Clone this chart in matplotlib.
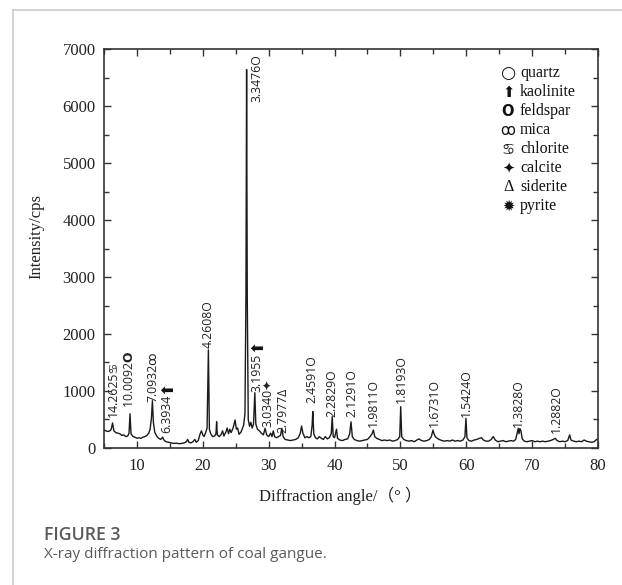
import matplotlib
matplotlib.use('Agg')
import matplotlib.pyplot as plt
from matplotlib.ticker import MultipleLocator
from matplotlib.lines import Line2D

serif = ['Liberation Serif', 'DejaVu Serif']
sans = ['Open Sans', 'DejaVu Sans']
plt.rcParams['font.family'] = serif
plt.rcParams['mathtext.fontset'] = 'dejavusans'

## XRD scan of coal gangue: 2-theta (deg) vs intensity (cps)
two_theta = [5.0, 5.3, 5.6, 5.9, 6.1, 6.3, 6.5, 6.8, 7.1, 7.4, 7.7, 8.0, 8.3, 8.6, 8.8, 8.95, 9.1,
             9.4, 9.7, 10.0, 10.3, 10.6, 10.9, 11.2, 11.5, 11.8, 12.0, 12.2, 12.35, 12.5, 12.7,
             13.0, 13.3, 13.6, 13.9, 14.1, 14.4, 14.8, 15.2, 15.6, 16.0, 16.4, 16.8, 17.2, 17.5,
             17.7, 17.9, 18.2, 18.5, 18.8, 19.0, 19.3, 19.6, 19.8, 20.0, 20.2, 20.4, 20.65, 20.85,
             21.0, 21.2, 21.5, 21.8, 22.0, 22.1, 22.2, 22.5, 22.8, 23.0, 23.2, 23.5, 23.7, 23.9,
             24.1, 24.3, 24.6, 24.9, 25.1, 25.3, 25.5, 25.8, 26.0, 26.2, 26.4, 26.55, 26.65, 26.75,
             26.9, 27.1, 27.3, 27.5, 27.7, 27.9, 28.05, 28.3, 28.6, 28.9, 29.2, 29.45, 29.7, 30.0,
             30.3, 30.5, 30.7, 30.9, 31.2, 31.5, 31.8, 32.0, 32.2, 32.5, 32.9, 33.3, 33.7, 34.1,
             34.5, 34.8, 35.0, 35.2, 35.5, 35.8, 36.1, 36.4, 36.6, 36.7, 36.85, 37.1, 37.4, 37.7,
             38.0, 38.3, 38.6, 38.9, 39.2, 39.5, 39.65, 39.8, 40.0, 40.3, 40.45, 40.8, 41.2, 41.6,
             42.0, 42.3, 42.5, 42.7, 43.0, 43.4, 43.8, 44.2, 44.6, 45.0, 45.4, 45.7, 45.9, 46.1,
             46.4, 46.8, 47.2, 47.6, 48.0, 48.4, 48.8, 49.2, 49.6, 49.9, 50.05, 50.2, 50.5, 50.9,
             51.3, 51.7, 52.1, 52.5, 52.8, 53.2, 53.6, 54.0, 54.4, 54.7, 54.95, 55.1, 55.3, 55.6,
             55.9, 56.3, 56.7, 57.1, 57.5, 57.9, 58.3, 58.7, 59.1, 59.5, 59.8, 59.95, 60.1, 60.4,
             60.8, 61.2, 61.6, 62.0, 62.3, 62.6, 63.0, 63.4, 63.8, 64.1, 64.4, 64.8, 65.2, 65.6,
             66.0, 66.4, 66.8, 67.2, 67.5, 67.8, 67.9, 68.0, 68.15, 68.3, 68.5, 68.8, 69.2, 69.6,
             70.0, 70.4, 70.8, 71.2, 71.6, 72.0, 72.4, 72.8, 73.2, 73.5, 73.8, 74.2, 74.6, 75.0,
             75.4, 75.7, 75.9, 76.3, 76.7, 77.1, 77.5, 77.9, 78.2, 78.6, 79.0, 79.4, 79.8, 80.0]
intensity = [320, 300, 290, 300, 330, 440, 300, 270, 260, 250, 220, 230, 200, 210, 260, 600, 250,
             200, 190, 170, 180, 170, 190, 200, 220, 260, 330, 520, 830, 450, 280,
             210, 170, 150, 190, 140, 110, 100, 90, 80, 85, 75, 80, 90, 110,
             150, 100, 90, 110, 150, 100, 130, 250, 300, 230, 200, 260, 350, 1720,
             330, 250, 200, 210, 250, 460, 230, 200, 240, 300, 210, 280, 350, 250,
             330, 270, 350, 490, 330, 350, 240, 280, 340, 400, 600, 2650, 6640, 2650,
             500, 380, 450, 350, 420, 970, 420, 330, 300, 260, 230, 345, 230, 200,
             260, 200, 300, 200, 180, 200, 220, 345, 200, 150, 140, 130, 140, 150,
             180, 260, 385, 260, 180, 200, 180, 200, 400, 640, 250, 180, 160, 200,
             170, 150, 200, 160, 180, 250, 550, 200, 180, 330, 170, 140, 130, 150,
             160, 250, 460, 200, 150, 130, 120, 130, 140, 150, 200, 250, 315, 200,
             170, 150, 130, 140, 130, 140, 120, 130, 150, 200, 725, 200, 150, 130,
             120, 130, 110, 140, 160, 130, 120, 130, 150, 200, 315, 250, 200, 170,
             150, 130, 120, 130, 120, 140, 120, 130, 120, 140, 200, 520, 180, 130,
             120, 140, 150, 170, 180, 140, 120, 120, 150, 200, 140, 110, 120, 130,
             110, 120, 130, 120, 150, 300, 345, 250, 340, 300, 160, 120, 110, 120,
             130, 110, 120, 110, 120, 110, 120, 130, 150, 170, 130, 110, 120, 110,
             130, 230, 140, 120, 110, 120, 110, 140, 120, 110, 100, 110, 150, 140]

## Peak labels: d-spacing (A) + phase symbol
peak_d = ['14.2625', '10.0092', '7.0932', '6.3934', '4.2608', '3.3476', '3.1955', '3.0340',
          '2.7977', '2.4591', '2.2829', '2.1291', '1.9811', '1.8193', '1.6731', '1.5424',
          '1.3828', '1.2882']
peak_phase = ['chlorite', 'feldspar', 'mica', 'kaolinite', 'quartz', 'quartz', 'kaolinite',
              'calcite', 'siderite', 'quartz', 'quartz', 'quartz', 'quartz', 'quartz', 'quartz',
              'quartz', 'quartz', 'quartz']
# anchor (x, bottom y) of each rotated label
label_x = [6.4, 8.9, 12.4, 14.6, 20.8, 28.2, 28.2, 29.9, 32.1, 36.6, 39.6, 42.7,
           45.9, 50.2, 55.2, 59.95, 67.9, 73.7]
label_y = [545, 700, 810, 260, 1750, 6070, 990, 375, 260, 790, 550, 550,
           375, 790, 375, 550, 375, 260]

## Phase key
phase_names = ['quartz', 'kaolinite', 'feldspar', 'mica', 'chlorite', 'calcite', 'siderite', 'pyrite']
phase_marks = ['\u25cb', '\u2b06', '$\\mathbf{O}$', '\ua74f', '\u264b', '\u2726', '\u0394', '\u2739']
# symbol used after the d-value on the peak labels
tag_marks = {'quartz': 'O', 'feldspar': '$\\mathbf{O}$', 'mica': '\ua74f', 'chlorite': '\u264b',
             'calcite': '\u2726', 'siderite': '\u0394'}

fig = plt.figure(figsize=(6.22, 5.85), dpi=100)
ax = fig.add_axes([0.1672, 0.2342, 0.7942, 0.682])

ax.plot(two_theta, intensity, color='#1a1a1a', linewidth=1.0)

for d, ph, lx, ly in zip(peak_d, peak_phase, label_x, label_y):
    if ph == 'kaolinite':
        t = ax.text(lx, ly, d, rotation=90, ha='center', va='bottom', fontsize=8.8,
                    family=sans, color='#222222')
        ax.annotate('\u2b06', xy=(0.5, 1), xycoords=t, xytext=(0, 1), textcoords='offset points',
                    rotation=90, ha='center', va='bottom', fontsize=11.5,
                    family='DejaVu Sans', color='#111111')
    else:
        ax.text(lx, ly, d + tag_marks[ph], rotation=90, ha='center', va='bottom', fontsize=8.8,
                family=sans, color='#222222')

for i, (m, n) in enumerate(zip(phase_marks, phase_names)):
    yy = (448 - 73 - 19 * i) / 399.0
    if m == '\u25cb':
        fam, fs = ['DejaVu Sans'], 12.5
    elif m == '\u0394':
        fam, fs = serif, 11.5
    else:
        fam, fs = ['DejaVu Sans'], 10.5
    ax.text(0.818, yy, m, transform=ax.transAxes, ha='center', va='center',
            fontsize=fs, family=fam, color='#111111')
    ax.text(0.842, yy, n, transform=ax.transAxes, ha='left', va='center',
            fontsize=11.5, family=serif, color='#111111')

ax.set_xlim(5, 80)
ax.set_ylim(0, 7000)
ax.xaxis.set_major_locator(MultipleLocator(10))
ax.xaxis.set_minor_locator(MultipleLocator(5))
ax.yaxis.set_major_locator(MultipleLocator(1000))
ax.yaxis.set_minor_locator(MultipleLocator(500))
ax.tick_params(which='both', direction='in', top=True, right=True, color='#333333',
               labelsize=12, labelcolor='#222222')
ax.tick_params(which='major', length=5, width=1)
ax.tick_params(which='minor', length=3.5, width=1)
ax.tick_params(axis='x', pad=7)
ax.tick_params(axis='y', pad=6)
for s in ax.spines.values():
    s.set_linewidth(1.2)
    s.set_color('#333333')

ax.set_xlabel('Diffraction angle/（° ）', family=['Liberation Serif', 'Noto Sans CJK SC'],
              fontsize=12, color='#222222')
ax.xaxis.set_label_coords((340 - 104) / 494.0, -(487 - 448) / 399.0)
ax.set_ylabel('Intensity/cps', fontsize=12, color='#222222')
ax.yaxis.set_label_coords((44 - 104) / 494.0, 0.53)

## Card frame and caption
fig.add_artist(Line2D([12.5 / 622, 1], [1 - 9.5 / 585] * 2, color='#cccccc', linewidth=1.2))
fig.add_artist(Line2D([12.5 / 622] * 2, [0, 1 - 9.5 / 585], color='#cccccc', linewidth=1.2))
fig.text(44 / 622, 1 - 535 / 585, 'FIGURE 3', family=sans, weight='semibold', fontsize=12.8,
         color='#5a5a5a', va='center')
fig.text(44 / 622, 1 - 555 / 585, 'X-ray diffraction pattern of coal gangue.', family=sans,
         fontsize=11, color='#5a5a5a', va='center')

plt.savefig('out.png', dpi=100)
